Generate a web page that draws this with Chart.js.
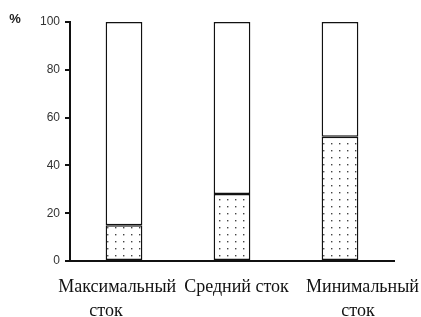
<!DOCTYPE html>
<html>
<head>
<meta charset="utf-8">
<script src="https://cdn.jsdelivr.net/npm/chart.js@4"></script>
<style>
  html, body { margin: 0; padding: 0; background: #fff; }
  #wrap { width: 421px; height: 317px; }
</style>
</head>
<body>
<div id="wrap"><canvas id="runoffChart" width="421" height="317"></canvas></div>
<script>
// labels are set a bit off-centre in the original, nbsp keeps that shift
const sp = (n) => '\u00a0'.repeat(n)
const categories = [
  ['Максимальный' + sp(3), 'сток' + sp(8)],
  sp(2) + 'Средний сток',
  [sp(10) + 'Минимальный', sp(8) + 'сток']
]
const dottedShare = [15, 28, 52]
const whiteShare = [85, 72, 48]
const yTicks = [0, 20, 40, 60, 80, 100]

// dotted fill like the old print hatch
const makeDots = () => {
  const c = document.createElement('canvas')
  c.width = 8
  c.height = 7
  const g = c.getContext('2d')
  g.fillStyle = '#fff'
  g.fillRect(0, 0, 8, 7)
  g.fillStyle = '#444'
  g.fillRect(3, 3, 1.4, 1.4)
  return g.createPattern(c, 'repeat')
}

const percentSign = {
  id: 'percentSign',
  afterDraw(chart) {
    const ctx = chart.ctx
    ctx.save()
    ctx.font = 'bold 13px "Liberation Sans"'
    ctx.fillStyle = '#222'
    ctx.textAlign = 'center'
    ctx.textBaseline = 'middle'
    ctx.fillText('%', 15, 19)
    ctx.restore()
  }
}

new Chart(document.getElementById('runoffChart'), {
  type: 'bar',
  data: {
    labels: categories,
    datasets: [{
      data: dottedShare,
      backgroundColor: makeDots(),
      borderColor: '#111',
      borderWidth: 1.5,
      borderSkipped: false
    }, {
      data: whiteShare,
      backgroundColor: '#fff',
      borderColor: '#111',
      borderWidth: 1.5,
      borderSkipped: false
    }]
  },
  plugins: [percentSign],
  options: {
    responsive: false,
    animation: false,
    categoryPercentage: 1,
    barPercentage: 0.34,
    layout: { padding: { top: 22, right: 27, left: 0, bottom: 0 } },
    plugins: {
      legend: { display: false },
      tooltip: { enabled: false }
    },
    scales: {
      x: {
        stacked: true,
        grid: { display: false },
        border: { display: true, color: '#111', width: 2 },
        ticks: {
          color: '#111',
          padding: 6,
          font: { family: '"Liberation Serif"', size: 18, lineHeight: 1.33 },
          maxRotation: 0,
          autoSkip: false
        },
        afterFit: (s) => {
          s.height = 56
          s.paddingLeft = 0
          s.paddingRight = 0
        }
      },
      y: {
        stacked: true,
        min: 0,
        max: 100,
        afterBuildTicks: (s) => { s.ticks = yTicks.map(v => ({ value: v })) },
        grid: { drawOnChartArea: false, drawTicks: true, tickLength: 5, color: '#111', lineWidth: 2 },
        border: { display: true, color: '#111', width: 2 },
        ticks: {
          color: '#333',
          padding: 5,
          font: { family: '"Liberation Sans"', size: 12 }
        },
        afterFit: (s) => { s.width = 70 }
      }
    }
  }
})
</script>
</body>
</html>
